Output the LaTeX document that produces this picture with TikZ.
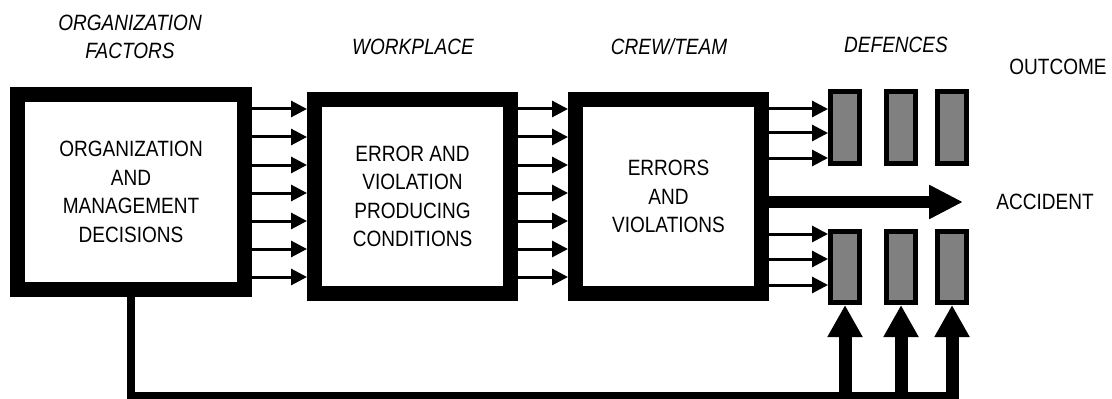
\documentclass[tikz,border=0pt]{standalone}
\usepackage{fontspec}
\setmainfont{Liberation Sans}[FakeStretch=0.86]
\usetikzlibrary{arrows.meta}
\newcommand\diagfont{\fontsize{16.6pt}{21.4pt}\selectfont}
\newcommand\headfont{\fontsize{16.6pt}{21pt}\selectfont\itshape}
\begin{document}
\begin{tikzpicture}[x=0.75pt,y=-0.75pt,
  bigbox/.style={draw, line width=11.25pt, fill=white, align=center,
    font=\diagfont, inner sep=0pt},
  defbar/.style={draw, line width=3.75pt, fill=gray, inner sep=0pt,
    minimum width=21.75pt, minimum height=53.25pt},
  thinarrow/.style={line width=2.25pt, -{Triangle[length=12pt,width=12pt]}},
  bigarrow/.style={line width=9pt, -{Triangle[length=25.5pt,width=24pt]}},
  uparrow/.style={line width=9.75pt, -{Triangle[length=24pt,width=24.75pt]}},
  feed/.style={line width=6pt},
  heading/.style={font=\headfont, align=center, inner sep=0pt},
  outlabel/.style={font=\diagfont, align=center, inner sep=0pt}]
\useasboundingbox (0,0) rectangle (1112,399);

% column headings
\node[heading] (h1) at (130,37) {ORGANIZATION\\FACTORS};
\node[heading] (h2) at (413,47) {WORKPLACE};
\node[heading] (h3) at (669,47) {CREW/TEAM};
\node[heading] (h4) at (896,45) {DEFENCES};
\node[outlabel] (h5) at (1058,67) {OUTCOME};

% main stages
\node[bigbox, minimum width=170.25pt, minimum height=146.25pt] (b1) at (131,192)
  {ORGANIZATION\\AND\\MANAGEMENT\\DECISIONS};
\node[bigbox, minimum width=147pt, minimum height=145.5pt] (b2) at (412.5,196.5)
  {ERROR AND\\VIOLATION\\PRODUCING\\CONDITIONS};
\node[bigbox, minimum width=139.5pt, minimum height=145.5pt] (b3) at (668.5,196.5)
  {ERRORS\\AND\\VIOLATIONS};

% defence barriers
\foreach \i/\x in {1/845,2/901,3/952} {
  \node[defbar] (d\i t) at (\x,127.5) {};
  \node[defbar] (d\i b) at (\x,267) {};
}

\node[outlabel] (acc) at (1045,202) {ACCIDENT};

% stage-to-stage flows
\foreach \y in {109,137,165,193,221,249,277} {
  \draw[thinarrow] (b1.east |- 0,\y) -- (b2.west |- 0,\y);
  \draw[thinarrow] (b2.east |- 0,\y) -- (b3.west |- 0,\y);
}
\foreach \y in {109,133,158}
  \draw[thinarrow] (b3.east |- 0,\y) -- (d1t.west |- 0,\y);
\foreach \y in {234,259,285}
  \draw[thinarrow] (b3.east |- 0,\y) -- (d1b.west |- 0,\y);

% trajectory through the gap
\coordinate (tip) at (963,202);
\draw[bigarrow] (b3.east |- tip) -- (tip);

% organizational feed to the lower defences
\coordinate (corner) at (b1.south |- 0,396);
\draw[feed] (b1.south) -- (corner) -- (d3b.south |- corner);
\foreach \i in {1,2,3}
  \draw[uparrow] (d\i b.south |- 0,399) -- (d\i b.south);
\end{tikzpicture}
\end{document}
